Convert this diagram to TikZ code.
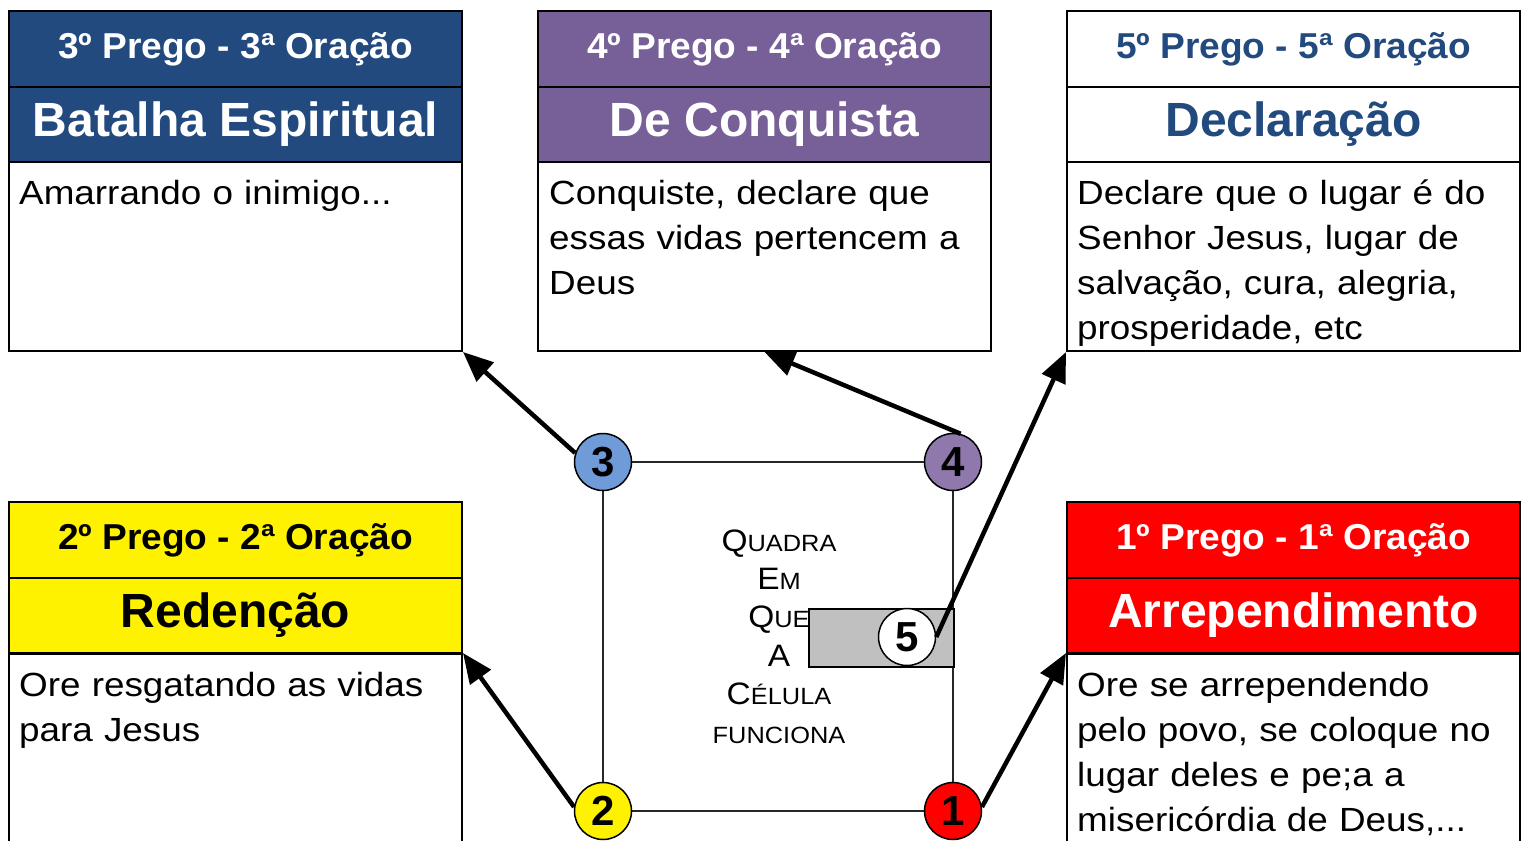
\documentclass[tikz,border=0pt]{standalone}
\usepackage{fontspec}
\setmainfont{Liberation Sans}
\newfontfamily\bodyf[FakeStretch=1.1]{Liberation Sans}
\newfontfamily\hdaf[FakeStretch=1.03]{Liberation Sans}
\newfontfamily\ctrf[FakeStretch=1.08]{Liberation Sans}
\usetikzlibrary{arrows.meta}
\definecolor{navy}{HTML}{224A7E}
\definecolor{purp}{HTML}{775F98}
\definecolor{lblue}{HTML}{6F9BD8}
\definecolor{lpurp}{HTML}{8F78AB}
\definecolor{grayfill}{HTML}{C0C0C0}
\tikzset{
  hdone/.style={draw=black, line width=2pt, rectangle, minimum width=453pt, minimum height=76pt, anchor=north west, inner sep=0pt, font=\hdaf\fontsize{36}{40}\selectfont\bfseries},
  hdtwo/.style={draw=black, line width=2pt, rectangle, minimum width=453pt, minimum height=75pt, anchor=north west, inner sep=0pt, font=\fontsize{48}{52}\selectfont\bfseries},
  bodybox/.style={draw=black, line width=2pt, rectangle, fill=white, minimum width=453pt, anchor=north west, inner sep=0pt},
  bodytxt/.style={anchor=base west, inner sep=0pt, text width=440pt, align=left, font=\bodyf\fontsize{33.5}{45}\selectfont},
  num/.style={circle, draw=black, line width=1.5pt, minimum size=57pt, inner sep=0pt, font=\fontsize{42}{42}\selectfont\bfseries},
  sqline/.style={line width=2pt, draw=black!85},
  arr/.style={line width=4.5pt, -{Triangle[length=30pt,width=25pt]}},
}
\newcommand{\scq}[2]{{\fontsize{31}{31}\selectfont #1}{\fontsize{23.5}{23.5}\selectfont #2}}
\begin{document}
\begin{tikzpicture}[x=1pt,y=-1pt]
\useasboundingbox (0,0) rectangle (1524,841);
\clip (0,0) rectangle (1524,841);
% top-left box
\node[hdone, fill=navy, text=white] (b3a) at (8,10) {3º Prego - 3ª Oração};
\node[hdtwo, fill=navy, text=white] (b3c) at (8,86) {Batalha Espiritual};
\node[bodybox, minimum height=189pt] (b3b) at (8,161) {};
\node[bodytxt] (b3t) at (19,204) {Amarrando o inimigo...};
% top-middle box
\node[hdone, fill=purp, text=white] (b4a) at (537,10) {4º Prego - 4ª Oração};
\node[hdtwo, fill=purp, text=white] (b4c) at (537,86) {De Conquista};
\node[bodybox, minimum height=189pt] (b4b) at (537,161) {};
\node[bodytxt] (b4t) at (549,204) {Conquiste, declare que\\essas vidas pertencem a\\Deus};
% top-right box
\node[hdone, fill=white, text=navy] (b5a) at (1066,10) {5º Prego - 5ª Oração};
\node[hdtwo, fill=white, text=navy] (b5c) at (1066,86) {Declaração};
\node[bodybox, minimum height=189pt] (b5b) at (1066,161) {};
\node[bodytxt] (b5t) at (1077,204) {Declare que o lugar é do\\Senhor Jesus, lugar de\\salvação, cura, alegria,\\prosperidade, etc};
% bottom-left box
\node[hdone, fill=yellow, text=black] (b2a) at (8,501) {2º Prego - 2ª Oração};
\node[hdtwo, fill=yellow, text=black] (b2c) at (8,577) {Redenção};
\node[bodybox, minimum height=250pt] (b2b) at (8,653) {};
\node[bodytxt] (b2t) at (19,696) {Ore resgatando as vidas\\para Jesus};
% bottom-right box
\node[hdone, fill=red, text=white] (b1a) at (1066,501) {1º Prego - 1ª Oração};
\node[hdtwo, fill=red, text=white] (b1c) at (1066,577) {Arrependimento};
\node[bodybox, minimum height=250pt] (b1b) at (1066,653) {};
\node[bodytxt] (b1t) at (1077,696) {Ore se arrependendo\\pelo povo, se coloque no\\lugar deles e pe;a a\\misericórdia de Deus,...};
% square
\coordinate (p3) at (603,462);
\coordinate (p4) at (953,462);
\coordinate (p2) at (603,811);
\coordinate (p1) at (953,811);
\draw[sqline] (p3) -- (p4) -- (p1) -- (p2) -- cycle;
% centre text
\node[anchor=base, inner sep=0pt, text width=220pt, align=center, font=\ctrf\fontsize{22}{38.4}\selectfont] (ctext) at (779,551)
  {\scq{Q}{UADRA}\\\scq{E}{M}\\\scq{Q}{UE}\\\scq{A}{}\\\scq{C}{ÉLULA}\\{\fontsize{23.5}{23.5}\selectfont FUNCIONA}};
% grey rectangle and circle 5
\node[draw=black, line width=2pt, fill=grayfill, rectangle, minimum width=145pt, minimum height=58pt, anchor=north west, inner sep=0pt] (grect) at (808,608) {};
\node[num, fill=white] (c5) at (907,637) {5};
% corner circles
\node[num, fill=lblue] (c3) at (p3) {3};
\node[num, fill=lpurp] (c4) at (p4) {4};
\node[num, fill=yellow] (c2) at (p2) {2};
\node[num, fill=red] (c1) at (p1) {1};
% arrows
\draw[arr] (c3.162) -- (b3b.south east);
\draw[arr] (c4.75) -- (b4b.south);
\draw[arr] (c5.east) -- (b5b.south west);
\draw[arr] (c2.172) -- (b2b.north east);
\draw[arr] (c1.8) -- (b1b.north west);
\end{tikzpicture}
\end{document}
